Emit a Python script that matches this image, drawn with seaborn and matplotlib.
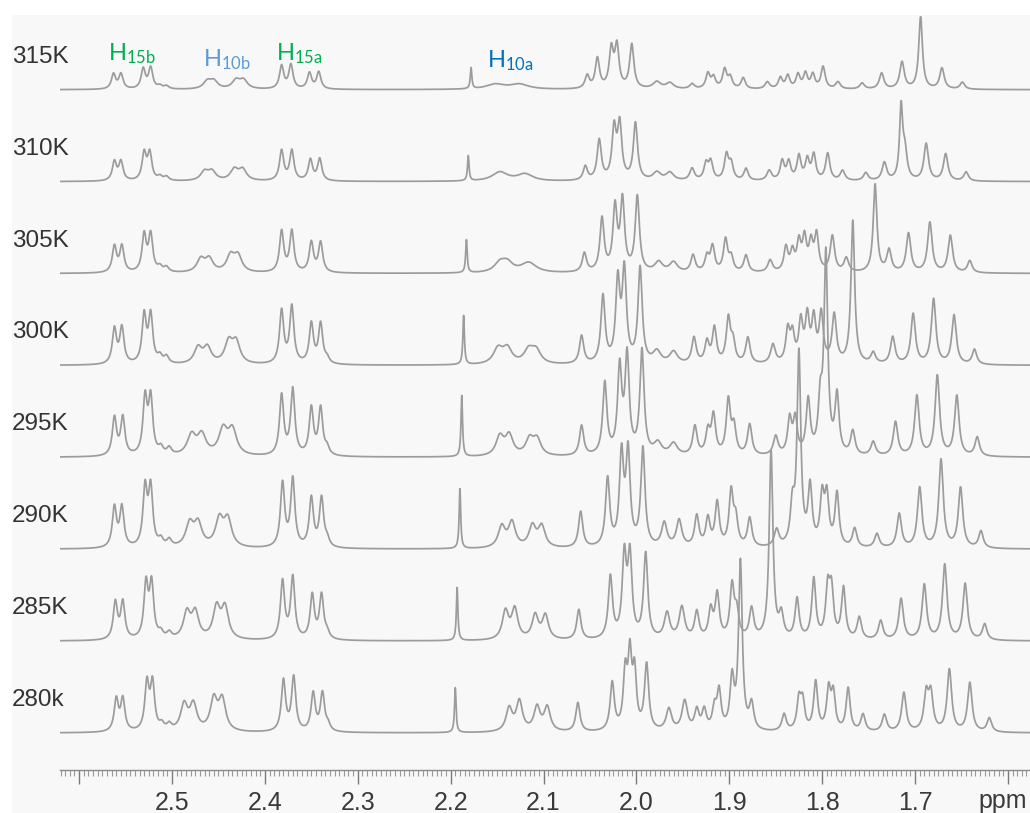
import numpy as np
import pandas as pd
import matplotlib
matplotlib.use("Agg")
import matplotlib.pyplot as plt
import seaborn as sns
from matplotlib.transforms import blended_transform_factory
from matplotlib.patches import Rectangle
from matplotlib.ticker import FixedLocator, MultipleLocator

# ---------------- data (peak lists) ----------------
temperatures = ["315K", "310K", "305K", "300K", "295K", "290K", "285K", "280k"]

# positions (ppm), heights (px), half widths (milli-ppm)
p315 = [2.563, 2.555, 2.531, 2.523, 2.513, 2.506, 2.462, 2.455, 2.431, 2.423, 2.382, 2.372, 2.352, 2.342,
        2.178, 2.152, 2.126,
        2.053, 2.042, 2.027, 2.021, 2.005, 1.978, 1.964, 1.940, 1.923, 1.917, 1.905, 1.899, 1.885, 1.859,
        1.845, 1.837, 1.826, 1.818, 1.810, 1.799, 1.783, 1.757, 1.736, 1.714, 1.694, 1.671, 1.649]
h315 = [15, 15, 20, 21, 3, 3, 7.5, 7.5, 8.5, 8.5, 23, 24, 16, 17,
        21, 5, 5,
        13, 30, 38, 41, 44, 7, 6, 5, 15, 11, 19, 11, 11, 7,
        11, 13, 14, 15, 14, 22, 7, 6, 16, 27, 72, 21, 7]
w315 = [2.7, 2.7, 2.7, 2.7, 3, 3, 5, 5, 5, 5, 2.7, 2.7, 2.7, 2.7,
        1.0, 12, 12,
        2.7, 2.7, 2.7, 2.7, 2.7, 5, 5, 3, 2.7, 2.7, 2.7, 2.7, 2.7, 3,
        2.6, 2.6, 2.6, 2.6, 2.6, 2.7, 3, 3, 2.9, 2.9, 2.4, 2.9, 2.9]

p310 = [2.562, 2.555, 2.530, 2.524, 2.513, 2.506, 2.465, 2.457, 2.433, 2.424, 2.382, 2.371, 2.351, 2.341,
        2.181, 2.147, 2.120,
        2.055, 2.040, 2.024, 2.018, 2.001, 1.978, 1.964, 1.940, 1.925, 1.920, 1.903, 1.898, 1.882, 1.857,
        1.843, 1.836, 1.825, 1.816, 1.809, 1.794, 1.778, 1.753, 1.733, 1.715, 1.711, 1.688, 1.667, 1.645]
h310 = [19, 19, 27, 27, 4, 4, 9, 9, 11, 11, 30, 30, 21, 22,
        25, 9, 7,
        14, 40, 50, 54, 57, 8, 8, 12, 16, 18, 25, 16, 12, 10,
        19, 18, 24, 20, 25, 27, 10, 8, 18, 70, 28, 37, 27, 9]
w310 = [2.7, 2.7, 2.7, 2.7, 3, 3, 5, 5, 5, 5, 2.7, 2.7, 2.7, 2.7,
        1.0, 10, 10,
        2.7, 2.7, 2.7, 2.7, 2.7, 5, 5, 3, 2.7, 2.7, 2.7, 2.7, 2.7, 3,
        2.6, 2.6, 2.6, 2.6, 2.6, 2.7, 3, 3, 2.9, 2.0, 2.9, 2.9, 2.9, 2.9]

p305 = [2.562, 2.554, 2.530, 2.523, 2.513, 2.506, 2.469, 2.460, 2.437, 2.429, 2.382, 2.371, 2.350, 2.340,
        2.183, 2.147, 2.139, 2.116,
        2.056, 2.037, 2.023, 2.015, 1.999, 1.976, 1.960, 1.939, 1.924, 1.918, 1.904, 1.898, 1.882, 1.856,
        1.839, 1.832, 1.825, 1.819, 1.812, 1.806, 1.789, 1.774, 1.743, 1.728, 1.707, 1.684, 1.662, 1.641]
h305 = [26, 26, 37, 37, 5, 5, 13, 13, 16, 16, 41, 41, 30, 30,
        33, 9, 9, 10,
        19, 53, 63, 70, 75, 10, 10, 17, 15, 25, 32, 14, 17, 12,
        24, 19, 28, 32, 27, 36, 36, 14, 88, 22, 39, 50, 37, 12]
w305 = [2.7, 2.7, 2.7, 2.7, 3, 3, 5, 5, 5, 5, 2.7, 2.7, 2.7, 2.7,
        1.0, 7, 7, 10,
        2.7, 2.7, 2.7, 2.7, 2.7, 5, 5, 2.8, 2.7, 2.7, 2.7, 2.7, 2.8, 3,
        2.6, 2.6, 2.6, 2.6, 2.6, 2.6, 2.8, 3, 2.4, 2.9, 2.9, 2.9, 2.9, 2.9]

p300 = [2.562, 2.554, 2.530, 2.523, 2.513, 2.506, 2.472, 2.462, 2.439, 2.431, 2.382, 2.371, 2.350, 2.340, 2.333,
        2.186, 2.149, 2.139, 2.116, 2.108,
        2.059, 2.036, 2.020, 2.013, 1.996, 1.978, 1.960, 1.938, 1.924, 1.916, 1.901, 1.896, 1.880, 1.853,
        1.837, 1.832, 1.823, 1.816, 1.809, 1.801, 1.787, 1.767, 1.745, 1.724, 1.702, 1.680, 1.658, 1.636]
h300 = [35, 36, 48, 48, 7, 7, 16, 16, 21, 21, 53, 57, 40, 40, 5,
        49, 15, 15, 13, 13,
        28, 67, 80, 90, 95, 12, 12, 26, 21, 35, 44, 20, 26, 19,
        32, 27, 40, 44, 42, 48, 48, 143, 11, 27, 50, 65, 49, 15]
w300 = [2.7, 2.7, 2.7, 2.7, 3, 3, 5, 5, 5, 5, 2.7, 2.7, 2.7, 2.7, 2.7,
        1.0, 6, 6, 6, 6,
        2.7, 2.7, 2.7, 2.7, 2.7, 5, 5, 2.8, 2.7, 2.7, 2.7, 2.7, 2.8, 3,
        2.6, 2.6, 2.6, 2.6, 2.6, 2.6, 2.8, 2.4, 3, 2.9, 2.9, 2.9, 2.9, 2.9]

p295 = [2.562, 2.553, 2.529, 2.523, 2.512, 2.503, 2.479, 2.468, 2.445, 2.435, 2.382, 2.370, 2.350, 2.340, 2.333,
        2.188, 2.147, 2.137, 2.115, 2.107,
        2.059, 2.034, 2.018, 2.010, 1.994, 1.977, 1.960, 1.937, 1.923, 1.917, 1.901, 1.895, 1.878, 1.850,
        1.835, 1.829, 1.815, 1.802, 1.796, 1.784, 1.767, 1.745, 1.721, 1.698, 1.676, 1.655, 1.633]
h295 = [38, 38, 56, 56, 7, 7, 20, 20, 25, 25, 60, 66, 47, 47, 7,
        61, 19, 20, 16, 16,
        30, 72, 85, 97, 104, 12, 12, 29, 23, 39, 54, 27, 31, 19,
        35, 35, 54, 48, 198, 58, 24, 14, 34, 60, 80, 60, 19]
w295 = [2.7, 2.7, 2.7, 2.7, 3, 3, 5.5, 5.5, 5.5, 5.5, 2.7, 2.7, 2.7, 2.7, 2.7,
        1.0, 5, 5, 5, 5,
        2.7, 2.7, 2.7, 2.7, 2.7, 5, 5, 2.8, 2.7, 2.7, 2.7, 2.7, 2.8, 3,
        2.6, 2.6, 2.6, 2.6, 2.4, 2.6, 2.8, 3, 2.9, 2.9, 2.9, 2.9, 2.9]

p290 = [2.562, 2.554, 2.529, 2.523, 2.512, 2.503, 2.481, 2.472, 2.449, 2.440, 2.381, 2.370, 2.350, 2.339, 2.333,
        2.190, 2.145, 2.134, 2.112, 2.102,
        2.060, 2.031, 2.016, 2.009, 1.993, 1.970, 1.954, 1.935, 1.923, 1.913, 1.898, 1.893, 1.878, 1.849,
        1.832, 1.825, 1.813, 1.800, 1.795, 1.784, 1.765, 1.741, 1.717, 1.695, 1.672, 1.651, 1.629]
h290 = [40, 40, 58, 58, 7, 7, 23, 23, 27, 27, 64, 68, 49, 49, 7,
        60, 21, 25, 21, 21,
        36, 68, 90, 92, 98, 24, 27, 31, 28, 44, 54, 26, 29, 17,
        38, 192, 58, 48, 48, 53, 19, 14, 34, 60, 88, 60, 17]
w290 = [2.7, 2.7, 2.7, 2.7, 3, 3, 5, 5, 5, 5, 2.7, 2.7, 2.7, 2.7, 2.7,
        1.0, 4.5, 4.5, 4.5, 4.5,
        2.7, 2.7, 2.7, 2.7, 2.7, 3.5, 3.5, 2.8, 2.7, 2.7, 2.7, 2.7, 2.8, 3,
        2.6, 2.4, 2.6, 2.6, 2.6, 2.6, 2.8, 3, 2.9, 2.9, 2.9, 2.9, 2.9]

p285 = [2.561, 2.553, 2.528, 2.522, 2.512, 2.503, 2.484, 2.475, 2.452, 2.443, 2.381, 2.370, 2.349, 2.339, 2.333,
        2.193, 2.141, 2.131, 2.109, 2.098,
        2.062, 2.028, 2.013, 2.007, 1.990, 1.967, 1.951, 1.935, 1.920, 1.913, 1.897, 1.892, 1.876,
        1.855, 1.844, 1.827, 1.809, 1.794, 1.790, 1.777, 1.760, 1.737, 1.715, 1.690, 1.668, 1.646, 1.625]
h285 = [37, 37, 54, 54, 6, 6, 26, 26, 31, 31, 58, 62, 44, 44, 6,
        53, 28, 30, 24, 24,
        30, 62, 80, 80, 85, 26, 32, 27, 28, 44, 52, 25, 30,
        188, 23, 40, 60, 48, 46, 51, 22, 19, 41, 55, 75, 56, 16]
w285 = [2.7, 2.7, 2.7, 2.7, 3, 3, 4.5, 4.5, 4.5, 4.5, 2.7, 2.7, 2.7, 2.7, 2.7,
        1.0, 4, 4, 4, 4,
        2.7, 2.7, 2.7, 2.7, 2.7, 3.5, 3.5, 2.8, 2.7, 2.7, 2.7, 2.7, 2.8,
        2.4, 2.8, 2.6, 2.6, 2.6, 2.6, 2.6, 2.8, 2.9, 2.9, 2.9, 2.9, 2.9, 2.9]

p280 = [2.560, 2.553, 2.527, 2.521, 2.511, 2.503, 2.487, 2.477, 2.455, 2.446, 2.380, 2.369, 2.348, 2.338, 2.332,
        2.195, 2.137, 2.126, 2.107, 2.096,
        2.063, 2.026, 2.012, 2.007, 2.002, 1.989, 1.965, 1.948, 1.935, 1.927, 1.916, 1.911, 1.897, 1.888, 1.876,
        1.841, 1.825, 1.821, 1.807, 1.793, 1.788, 1.772, 1.756, 1.733, 1.712, 1.688, 1.683, 1.663, 1.641, 1.620]
h280 = [32, 32, 47, 47, 6, 6, 26, 26, 31, 31, 51, 54, 38, 38, 6,
        45, 23, 30, 24, 24,
        29, 48, 55, 70, 55, 66, 22, 30, 20, 20, 21, 38, 50, 168, 26,
        17, 30, 28, 49, 40, 36, 43, 17, 17, 39, 36, 36, 62, 49, 14]
w280 = [2.7, 2.7, 2.7, 2.7, 3, 3, 4.5, 4.5, 4.5, 4.5, 2.7, 2.7, 2.7, 2.7, 2.7,
        1.0, 4, 4, 4, 4,
        2.7, 2.7, 2.5, 2.4, 2.4, 2.7, 3.5, 3.5, 2.8, 2.8, 2.6, 2.6, 2.6, 2.4, 2.8,
        2.8, 2.6, 2.6, 2.6, 2.6, 2.6, 2.6, 2.8, 2.9, 2.9, 2.9, 2.9, 2.9, 2.9, 2.9]

peak_pos = [p315, p310, p305, p300, p295, p290, p285, p280]
peak_hgt = [h315, h310, h305, h300, h295, h290, h285, h280]
peak_wid = [w315, w310, w305, w300, w295, w290, w285, w280]

tick_values = [2.6, 2.5, 2.4, 2.3, 2.2, 2.1, 2.0, 1.9, 1.8, 1.7, 1.6]
tick_labels = ["", "2.5", "2.4", "2.3", "2.2", "2.1", "2.0", "1.9", "1.8", "1.7", ""]
unit_label = "ppm"

assignments = [r"$\mathregular{H_{15b}}$", r"$\mathregular{H_{10b}}$",
               r"$\mathregular{H_{15a}}$", r"$\mathregular{H_{10a}}$"]
assign_ppm = [2.5689, 2.4666, 2.3880, 2.1608]
assign_y = [673, 667, 673, 666]
assign_colors = ["#00B050", "#5B9BD5", "#00B050", "#0070C0"]

# ---------------- build spectra ----------------
X_LEFT, X_RIGHT = 2.6206, 1.5762
SPACING = 91.9
ppm = np.linspace(X_LEFT, X_RIGHT, 6000)
rows = []
n = len(temperatures)
for i, t in enumerate(temperatures):
    offset = (n - 1 - i) * SPACING
    y = np.zeros_like(ppm)
    for p, h, w in zip(peak_pos[i], peak_hgt[i], peak_wid[i]):
        g = w / 1000.0
        y += h * g * g / ((ppm - p) ** 2 + g * g)
    rows.append(pd.DataFrame({"ppm": ppm, "intensity": y + offset, "temperature": t}))
df = pd.concat(rows, ignore_index=True)

# ---------------- figure ----------------
sns.set_theme(style="white")
plt.rcParams["font.family"] = ["Liberation Sans", "DejaVu Sans"]

fig = plt.figure(figsize=(10.30, 8.13), dpi=100, facecolor="white")
bg = Rectangle((12 / 1030, 0), 1, (813 - 15) / 813, transform=fig.transFigure,
               facecolor="#f8f8f8", edgecolor="none", zorder=-10)
fig.add_artist(bg)
ax = fig.add_axes([60 / 1030, 43 / 813, 970 / 1030, 755 / 813])
ax.set_zorder(5)
ax.patch.set_alpha(0)

sns.lineplot(data=df, x="ppm", y="intensity", hue="temperature",
             palette={t: "#9c9c9c" for t in temperatures}, legend=False,
             estimator=None, sort=False, linewidth=1.25, ax=ax)

ax.set_xlim(X_LEFT, X_RIGHT)
ax.set_ylim(-37, 718)
ax.set_xlabel("")
ax.set_ylabel("")
ax.set_yticks([])
for s in ["left", "right", "top"]:
    ax.spines[s].set_visible(False)
ax.spines["bottom"].set_color("#8a8a8a")
ax.spines["bottom"].set_linewidth(1.0)

ax.xaxis.set_major_locator(FixedLocator(tick_values))
ax.set_xticklabels(tick_labels)
ax.xaxis.set_minor_locator(MultipleLocator(0.005))
ax.tick_params(axis="x", which="major", length=10, width=1.0, color="#7a7a7a",
               direction="out", pad=5, labelsize=18, labelcolor="#3a3a3a")
ax.tick_params(axis="x", which="minor", length=4.5, width=0.8, color="#9a9a9a", direction="out")
ax.tick_params(axis="x", which="both", bottom=True)

# unit label in place of the 1.6 tick label
xtrans = blended_transform_factory(ax.transData, fig.transFigure)
ax.text(1.6058, 1 - 801 / 813, unit_label, transform=xtrans, ha="center", va="center",
        fontsize=18, color="#3a3a3a", clip_on=False)

# temperature labels
trans = blended_transform_factory(fig.transFigure, ax.transData)
for i, t in enumerate(temperatures):
    offset = (n - 1 - i) * SPACING
    ax.text(12 / 1030, offset + 33, t, transform=trans, ha="left", va="center",
            fontsize=17.5, color="#333333", clip_on=False)

# assignment labels
for lab, xp, yp, c in zip(assignments, assign_ppm, assign_y, assign_colors):
    ax.text(xp, yp, lab, ha="left", va="baseline", fontsize=17, color=c,
            family=["Lato", "DejaVu Sans"], clip_on=False)

fig.savefig("out.png", dpi=100, facecolor=fig.get_facecolor())
